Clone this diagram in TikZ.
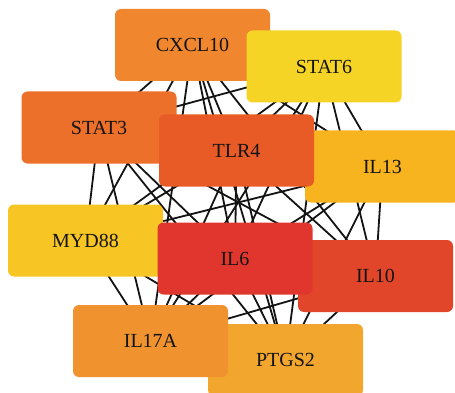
\documentclass[tikz,border=0pt]{standalone}
\usepackage{fontspec}
\setmainfont{Liberation Serif}
\usetikzlibrary{backgrounds}
\definecolor{cCXCL}{HTML}{F0862E}
\definecolor{cSTATsix}{HTML}{F5D426}
\definecolor{cSTATthree}{HTML}{EC702A}
\definecolor{cTLR}{HTML}{E85A26}
\definecolor{cILthirteen}{HTML}{F8B41E}
\definecolor{cMYD}{HTML}{F8C624}
\definecolor{cILsix}{HTML}{E0362E}
\definecolor{cILten}{HTML}{E2462A}
\definecolor{cILseventeen}{HTML}{F0922E}
\definecolor{cPTGS}{HTML}{F2A62E}
\begin{document}
\begin{tikzpicture}[x=1pt,y=-1pt,
  gene/.style={rectangle, rounded corners=6pt, minimum width=155pt, minimum height=72pt,
    inner sep=0pt, font=\fontsize{20}{24}\selectfont, text=black!92},
  link/.style={line width=1.8pt, draw=black!92}]
\useasboundingbox (0,0) rectangle (455,393);
\clip (0,0) rectangle (455,393);
\node[gene, fill=cCXCL] (cxcl10) at (192.5,45) {CXCL10};
\node[gene, fill=cSTATsix] (stat6) at (324,66.5) {STAT6};
\node[gene, fill=cSTATthree] (stat3) at (99,127.5) {STAT3};
\node[gene, fill=cILthirteen] (il13) at (382.5,166.5) {IL13};
\node[gene, fill=cTLR] (tlr4) at (236.5,150.5) {TLR4};
\node[gene, fill=cMYD] (myd88) at (85.5,240.5) {MYD88};
\node[gene, fill=cILten] (il10) at (375.5,276) {IL10};
\node[gene, fill=cILsix] (il6) at (235,258.5) {IL6};
\node[gene, fill=cPTGS] (ptgs2) at (285.5,360) {PTGS2};
\node[gene, fill=cILseventeen] (il17a) at (150.5,341) {IL17A};
\begin{scope}[on background layer]
\foreach \a [count=\i] in {cxcl10,stat6,stat3,il13,tlr4,myd88,il10,il6,ptgs2,il17a}{
  \foreach \b [count=\j] in {cxcl10,stat6,stat3,il13,tlr4,myd88,il10,il6,ptgs2,il17a}{
    \ifnum\j>\i \draw[link] (\a.center) -- (\b.center); \fi
  }
}
\end{scope}
\end{tikzpicture}
\end{document}
